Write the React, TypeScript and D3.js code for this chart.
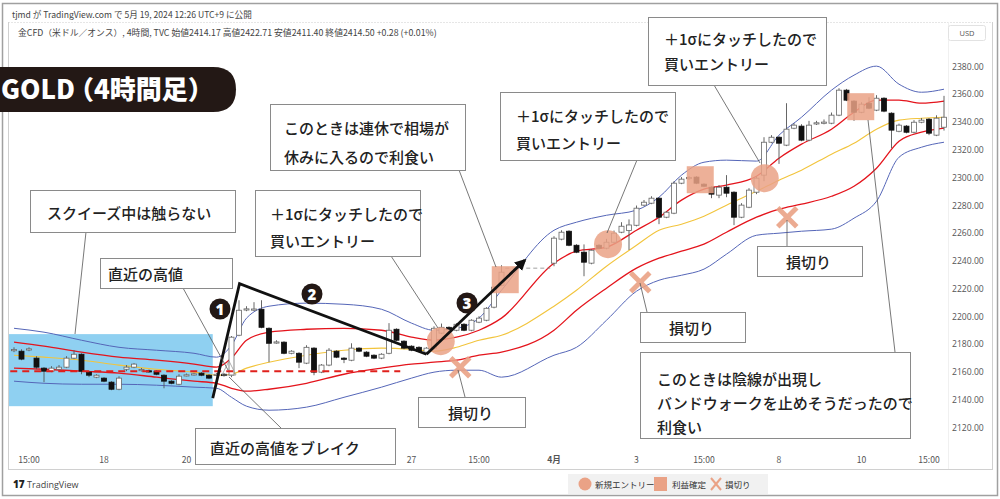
import React from "react";
import * as d3 from "d3";

const W = 1000;
const H = 499;

// [open, high, low, close] per 4h bar, null = no bar drawn
const candles: ([number, number, number, number] | null)[] = [
  [2175.8, 2177.9, 2174.4, 2176.3], [2175.1, 2176.5, 2168.6, 2169.4], [2176.2, 2177.9, 2175.1, 2176.8],
  [2170.1, 2171.5, 2162.1, 2163.6], [2162.9, 2163.6, 2152.8, 2160.7], [2160.7, 2164.3, 2160.0, 2162.9],
  [2162.1, 2165.1, 2161.4, 2163.6], [2163.6, 2171.5, 2162.9, 2170.1], [2170.1, 2175.8, 2169.4, 2172.9],
  [2172.9, 2173.6, 2158.5, 2160.7], [2160.0, 2160.7, 2156.4, 2157.8], [2156.4, 2158.5, 2155.7, 2157.8],
  [2155.7, 2156.4, 2152.8, 2153.5], [2152.8, 2153.5, 2147.0, 2147.7], [2147.7, 2157.0, 2147.0, 2155.7],
  [2162.1, 2165.1, 2160.7, 2163.6], [2163.6, 2166.5, 2162.9, 2165.8], [2161.4, 2163.0, 2160.5, 2161.9],
  [2161.0, 2161.9, 2159.6, 2160.4], [2160.7, 2161.4, 2157.8, 2158.5], [2157.8, 2158.5, 2148.4, 2153.5],
  [2153.5, 2154.2, 2151.3, 2152.0], [2151.3, 2158.5, 2150.6, 2157.1], [2157.5, 2159.0, 2157.0, 2158.1],
  [2158.2, 2159.5, 2157.6, 2158.8], [2159.3, 2160.0, 2157.1, 2157.8], [2157.8, 2158.5, 2155.0, 2155.7],
  [2158.0, 2159.3, 2157.1, 2158.5], [2158.5, 2159.3, 2156.8, 2157.5], [2157.8, 2186.0, 2156.4, 2185.2],
  [2186.6, 2211.8, 2185.9, 2204.6], [2205.0, 2207.5, 2203.9, 2205.6], [2205.1, 2210.4, 2204.0, 2205.5],
  [2205.3, 2211.8, 2191.6, 2192.3], [2191.6, 2192.3, 2167.2, 2180.8], [2181.3, 2183.0, 2180.5, 2181.8],
  [2181.6, 2182.3, 2172.9, 2173.6], [2173.6, 2175.8, 2172.9, 2175.1], [2173.6, 2174.4, 2162.9, 2167.2],
  [2166.5, 2179.4, 2165.8, 2177.9], [2177.3, 2178.0, 2157.8, 2160.0], [2160.0, 2165.8, 2159.3, 2165.1],
  [2165.1, 2177.3, 2164.3, 2175.8], [2175.1, 2175.8, 2170.1, 2170.8], [2170.1, 2170.8, 2166.5, 2169.4],
  [2168.6, 2180.8, 2167.9, 2177.3], [2177.3, 2178.0, 2174.4, 2175.1], [2174.4, 2175.1, 2170.8, 2171.5],
  [2172.2, 2172.9, 2169.4, 2170.1], [2170.1, 2173.6, 2169.4, 2172.9], [2173.6, 2195.3, 2172.9, 2190.2],
  [2190.9, 2191.6, 2182.3, 2183.0], [2182.3, 2183.0, 2176.5, 2177.3], [2178.7, 2179.4, 2175.1, 2175.8],
  [2177.9, 2178.7, 2174.4, 2175.1], [2174.4, 2178.0, 2173.6, 2177.3], [2177.3, 2193.0, 2176.5, 2191.6],
  [2188.1, 2195.0, 2187.4, 2192.3], [2192.3, 2193.0, 2190.2, 2190.9], [2190.2, 2195.3, 2189.5, 2194.5],
  [2194.5, 2195.3, 2189.5, 2190.2], [2190.2, 2198.1, 2189.5, 2197.4], [2196.0, 2200.3, 2195.3, 2198.9],
  [2197.4, 2206.8, 2196.7, 2206.0], [2206.8, 2222.0, 2206.0, 2221.2], [2222.6, 2237.0, 2221.9, 2232.0],
  null, null, null, null, null, null,
  [2238.5, 2257.9, 2236.3, 2256.5], [2255.8, 2262.2, 2255.0, 2260.8], [2261.5, 2262.2, 2250.7, 2251.4],
  [2251.4, 2252.2, 2245.7, 2246.4], [2246.4, 2252.0, 2229.1, 2239.2], [2238.5, 2248.5, 2237.7, 2247.8],
  [2251.4, 2252.2, 2248.5, 2249.3], [2249.3, 2256.0, 2248.5, 2253.6], [2253.6, 2262.0, 2252.9, 2260.1],
  [2260.8, 2268.0, 2260.1, 2265.1], [2262.0, 2270.0, 2248.0, 2266.0], [2265.8, 2280.0, 2265.0, 2278.1],
  [2280.3, 2284.0, 2279.6, 2282.4], [2281.7, 2286.7, 2281.0, 2285.3], [2285.3, 2286.0, 2266.6, 2271.6],
  [2271.6, 2276.0, 2270.9, 2275.2], [2274.5, 2297.5, 2273.8, 2296.1], [2296.1, 2300.5, 2295.4, 2299.0],
  [2299.5, 2301.2, 2298.5, 2300.2], [2300.5, 2301.2, 2295.4, 2296.1], [2295.4, 2296.1, 2293.2, 2293.9],
  [2293.2, 2293.9, 2285.3, 2288.2], [2287.5, 2294.7, 2285.3, 2293.2], [2293.2, 2301.9, 2286.0, 2288.9],
  [2289.6, 2290.3, 2265.9, 2271.6], [2271.6, 2281.7, 2270.9, 2280.3], [2278.8, 2292.5, 2278.1, 2291.1],
  [2289.6, 2301.2, 2288.2, 2299.7], [2301.9, 2329.2, 2297.5, 2325.6], [2325.6, 2330.7, 2324.9, 2329.2],
  [2329.2, 2330.0, 2310.0, 2324.9], [2323.5, 2353.7, 2322.8, 2335.0], [2335.7, 2339.3, 2335.0, 2337.9],
  [2337.2, 2338.6, 2326.3, 2327.1], [2327.1, 2341.0, 2326.3, 2337.9], [2339.0, 2341.0, 2338.0, 2339.6],
  [2339.5, 2342.0, 2338.5, 2340.1], [2339.3, 2347.0, 2338.6, 2345.1], [2345.1, 2364.5, 2344.4, 2363.1],
  [2363.1, 2364.0, 2355.2, 2355.9], [2355.2, 2356.0, 2341.0, 2347.2], [2347.2, 2354.4, 2346.5, 2353.0],
  [2353.7, 2358.0, 2349.4, 2350.1], [2348.7, 2359.5, 2348.0, 2357.3], [2357.3, 2358.0, 2347.2, 2348.0],
  [2346.5, 2347.2, 2321.3, 2334.3], [2333.5, 2339.0, 2332.8, 2337.9], [2337.2, 2338.0, 2332.0, 2332.8],
  [2332.8, 2341.5, 2332.0, 2340.0], [2340.0, 2343.0, 2339.3, 2341.5], [2342.2, 2343.0, 2330.7, 2332.1],
  [2330.7, 2345.0, 2330.0, 2342.9], [2336.4, 2359.0, 2334.0, 2343.6],
];

// Bollinger band values read at these bar indices
const bandIdx = [0, 4, 9, 14, 19, 24, 27, 29, 31, 34, 39, 44, 49, 53, 56, 59, 62, 65, 72, 75, 79, 83, 86, 89, 92, 95, 99, 102, 105, 109, 112, 115, 118, 121, 124];
const upper2 = [2191.6, 2188.8, 2183.0, 2177.9, 2175.8, 2173.6, 2170.8, 2179.4, 2198.9, 2207.5, 2209.7, 2208.9, 2205.3, 2195.3, 2190.2, 2191.6, 2198.9, 2219.0, 2262.2, 2268.0, 2273.0, 2276.7, 2286.0, 2301.9, 2311.2, 2312.7, 2312.0, 2330.7, 2343.6, 2363.1, 2373.9, 2380.4, 2367.4, 2361.6, 2363.8];
const upper1 = [2181.6, 2178.7, 2174.4, 2170.8, 2168.6, 2165.8, 2163.6, 2170.1, 2183.0, 2188.8, 2190.9, 2191.6, 2190.2, 2185.2, 2183.0, 2185.2, 2190.2, 2198.9, 2238.5, 2247.1, 2250.0, 2262.2, 2271.6, 2283.9, 2291.8, 2294.7, 2301.1, 2314.1, 2324.2, 2335.0, 2347.2, 2355.9, 2355.9, 2353.7, 2355.2];
const middle = [2172.2, 2170.8, 2168.6, 2165.1, 2162.1, 2160.0, 2157.8, 2158.5, 2162.9, 2167.2, 2172.2, 2175.8, 2177.3, 2176.5, 2175.1, 2177.9, 2183.0, 2186.6, 2207.5, 2219.0, 2236.3, 2251.4, 2262.2, 2266.6, 2272.3, 2280.3, 2290.3, 2298.3, 2305.5, 2317.0, 2324.9, 2335.0, 2341.5, 2342.9, 2343.6];
const lower1 = [2162.9, 2162.1, 2160.7, 2159.3, 2156.4, 2153.5, 2152.0, 2148.4, 2146.3, 2147.7, 2152.0, 2158.5, 2162.9, 2165.8, 2167.2, 2168.6, 2172.2, 2174.4, 2190.2, 2204.6, 2220.5, 2234.9, 2242.1, 2247.1, 2252.2, 2260.8, 2271.6, 2277.4, 2281.0, 2286.7, 2293.9, 2306.9, 2326.3, 2332.8, 2335.7];
const lower2 = [2153.5, 2152.0, 2151.3, 2151.3, 2150.6, 2149.2, 2148.4, 2141.9, 2135.5, 2132.6, 2134.8, 2141.9, 2149.2, 2155.7, 2160.0, 2161.4, 2161.4, 2156.4, 2172.2, 2177.9, 2197.4, 2218.3, 2226.2, 2229.8, 2234.2, 2245.0, 2258.6, 2260.1, 2261.5, 2263.0, 2270.9, 2283.1, 2314.8, 2322.0, 2325.6];

const priceTicks = [2120, 2140, 2160, 2180, 2200, 2220, 2240, 2260, 2280, 2300, 2320, 2340, 2360, 2380];
const timeTickIdx = [2, 12, 23, 53, 62, 72, 83, 92, 102, 113, 122];
const timeTickLabels = ["15:00", "18", "20", "27", "15:00", "4月", "3", "15:00", "8", "10", "15:00"];

// annotations in data space (bar index, price)
const patternIdx = [26.5, 30.07, 55.0];
const patternPrice = [2141.3, 2223.7, 2172.9];
const arrowIdx = [55.0, 68.1];
const arrowPrice = [2172.9, 2240.6];
const entryIdx = [56.9, 79.2, 100.1];
const entryPrice = [2182.3, 2252.2, 2299.7];
const profitIdx = [65.5, 91.5, 112.9];
const profitPrice = [2226.6, 2298.6, 2351.2];
const stopIdx = [59.5, 83.5, 103.1];
const stopPrice = [2163.6, 2224.8, 2271.6];
const squeezeIdx = [-0.67, 26.5];
const squeezePrice = [2187.4, 2135.5];
const recentHigh = 2160.7;
const recentHighIdx = [-0.5, 51.5];
const gapLine = 2234.9;
const gapLineIdx = [65.5, 71.5];

const JP = "'Noto Sans CJK JP', 'Noto Sans', sans-serif";
const NUM = "'Open Sans', 'Liberation Sans', sans-serif";
const SALMON = "#eaa286";

const callouts = [
  { x: 30, y: 190, w: 205, h: 42, tx: 47, lines: ["スクイーズ中は触らない"], ly: [212] },
  { x: 100, y: 258, w: 132, h: 30, tx: 108, lines: ["直近の高値"], ly: [273] },
  { x: 195, y: 428, w: 200, h: 36, tx: 210, lines: ["直近の高値をブレイク"], ly: [447] },
  { x: 255, y: 190, w: 165, h: 66, tx: 270, lines: ["＋1σにタッチしたので", "買いエントリー"], ly: [213, 240] },
  { x: 270, y: 104, w: 195, h: 66, tx: 284, lines: ["このときは連休で相場が", "休みに入るので利食い"], ly: [127, 156] },
  { x: 500, y: 92, w: 175, h: 68, tx: 516, lines: ["＋1σにタッチしたので", "買いエントリー"], ly: [115, 142] },
  { x: 648, y: 17, w: 178, h: 68, tx: 664, lines: ["＋1σにタッチしたので", "買いエントリー"], ly: [38, 63] },
  { x: 418, y: 397, w: 107, h: 30, tx: 448, lines: ["損切り"], ly: [412] },
  { x: 640, y: 312, w: 105, h: 30, tx: 669, lines: ["損切り"], ly: [327] },
  { x: 757, y: 246, w: 105, h: 30, tx: 786, lines: ["損切り"], ly: [261] },
  { x: 640, y: 352, w: 270, h: 86, tx: 657, lines: ["このときは陰線が出現し", "バンドウォークを止めそうだったので", "利食い"], ly: [378, 402, 426] },
];

const leaders: [number, number, number, number][] = [
  [86, 232, 75, 334],
  [183, 288, 228, 370],
  [281, 428, 229, 377],
  [391, 256, 438, 328],
  [459, 170, 496, 267],
  [637, 160, 607, 233],
  [714, 85, 760, 163],
  [458, 370, 465, 397],
  [640, 283, 647, 312],
  [787, 220, 787, 246],
  [868, 120, 895, 352],
];

const badges = [
  { cx: 220, cy: 309, t: "1" },
  { cx: 312, cy: 294, t: "2" },
  { cx: 467, cy: 303, t: "3" },
];

export default function App() {
  const x = d3.scaleLinear().domain([0, 124]).range([14, 944]);
  const y = d3.scaleLinear().domain([2120, 2380]).range([427.7, 66.7]);
  const bandLine = d3
    .line<number>()
    .x((_, k) => x(bandIdx[k]))
    .y((d) => y(d))
    .curve(d3.curveMonotoneX);
  const pat = d3.line<number>().x((d) => x(d)).y((_, k) => y(patternPrice[k]));
  const bw = 5;

  const bands = [
    { d: upper2, c: "#5566b8", w: 1 },
    { d: lower2, c: "#5566b8", w: 1 },
    { d: middle, c: "#f2c43c", w: 1.1 },
    { d: upper1, c: "#e4141c", w: 1.3 },
    { d: lower1, c: "#e4141c", w: 1.3 },
  ];

  return (
    <svg
      width={W}
      height={H}
      viewBox={`0 0 ${W} ${H}`}
      style={{ position: "absolute", left: 0, top: 0, background: "#fff" }}
    >
      <defs>
        <clipPath id="plot">
          <rect x={8} y={22} width={940} height={423} />
        </clipPath>
        <marker id="ah" viewBox="0 0 10 10" refX={8} refY={5} markerWidth={4.2} markerHeight={4.2} orient="auto">
          <path d="M0,0 L10,5 L0,10 Z" fill="#111" />
        </marker>
      </defs>

      {/* frames */}
      <rect x={2.5} y={3.5} width={995} height={492} fill="#fff" stroke="#a0a0a0" strokeWidth={1.5} />
      <line x1={8} x2={993} y1={22.5} y2={22.5} stroke="#e6e6e6" strokeDasharray="2,1" />
      <line x1={8.5} x2={8.5} y1={22} y2={470} stroke="#d0d0d0" />
      <line x1={992.5} x2={992.5} y1={22} y2={470} stroke="#d0d0d0" />
      <line x1={8} x2={993} y1={469.5} y2={469.5} stroke="#d0d0d0" />
      <line x1={948.5} x2={948.5} y1={22} y2={469} stroke="#f0f0f0" />

      {/* header */}
      <text x={12} y={18} fontSize={8.6} fill="#444" fontFamily={JP}>
        tjmd が TradingView.com で 5月 19, 2024 12:26 UTC+9 に公開
      </text>
      <text x={18} y={36} fontSize={8.8} fill="#444" fontFamily={JP}>
        金CFD（米ドル／オンス）, 4時間, TVC  始値2414.17  高値2422.71  安値2411.40  終値2414.50  +0.28 (+0.01%)
      </text>

      {/* USD box */}
      <rect x={948.5} y={25.5} width={37} height={15} fill="#fff" stroke="#e2e2e2" rx={2} />
      <text x={967} y={36} fontSize={7.5} fill="#555" textAnchor="middle" fontFamily={NUM}>USD</text>

      {/* price axis */}
      {priceTicks.map((p) => (
        <text key={p} x={952} y={y(p) + 3} fontSize={8.6} fill="#555" fontFamily={NUM}>
          {p.toFixed(2)}
        </text>
      ))}

      {/* time axis */}
      {timeTickIdx.map((i, k) => (
        <text
          key={k}
          x={x(i)}
          y={463}
          fontSize={8.6}
          fill="#555"
          textAnchor="middle"
          fontWeight={timeTickLabels[k] === "4月" ? 700 : 400}
          fontFamily={JP}
        >
          {timeTickLabels[k]}
        </text>
      ))}

      {/* squeeze area */}
      <rect
        x={x(squeezeIdx[0])}
        y={y(squeezePrice[0])}
        width={x(squeezeIdx[1]) - x(squeezeIdx[0])}
        height={y(squeezePrice[1]) - y(squeezePrice[0])}
        fill="#8fd0f1"
      />

      <g clipPath="url(#plot)">
        {bands.map((b, k) => (
          <path key={k} d={bandLine(b.d) || ""} fill="none" stroke={b.c} strokeWidth={b.w} />
        ))}

        {candles.map((c, i) => {
          if (!c) return null;
          const [o, h, l, cl] = c;
          const up = cl >= o;
          const top = y(Math.max(o, cl));
          const bot = y(Math.min(o, cl));
          const cx = x(i);
          return (
            <g key={i}>
              <line x1={cx} x2={cx} y1={y(h)} y2={y(l)} stroke="#555" strokeWidth={0.9} />
              <rect
                x={cx - bw / 2}
                y={top}
                width={bw}
                height={Math.max(1.2, bot - top)}
                fill={up ? "#fff" : "#111"}
                stroke={up ? "#666" : "#111"}
                strokeWidth={0.8}
              />
            </g>
          );
        })}
      </g>

      {/* recent high dashed line */}
      <line
        x1={x(recentHighIdx[0])}
        x2={x(recentHighIdx[1])}
        y1={y(recentHigh)}
        y2={y(recentHigh)}
        stroke="#e0201c"
        strokeWidth={2}
        strokeDasharray="7,5"
      />
      <line
        x1={x(gapLineIdx[0])}
        x2={x(gapLineIdx[1])}
        y1={y(gapLine)}
        y2={y(gapLine)}
        stroke="#888"
        strokeWidth={0.8}
        strokeDasharray="4,3"
      />
      <polygon points="222,375 229,361 236,375" fill="none" stroke="#999" strokeWidth={0.8} />

      {/* markers */}
      {profitIdx.map((i, k) => (
        <rect key={k} x={x(i) - 13.5} y={y(profitPrice[k]) - 13.5} width={27} height={27} fill={SALMON} opacity={0.85} />
      ))}
      {entryIdx.map((i, k) => (
        <circle key={k} cx={x(i)} cy={y(entryPrice[k])} r={14} fill={SALMON} opacity={0.85} />
      ))}
      {stopIdx.map((i, k) => {
        const cx = x(i);
        const cy = y(stopPrice[k]);
        const s = 9.5;
        return (
          <g key={k} stroke={SALMON} strokeWidth={5} opacity={0.9}>
            <line x1={cx - s} y1={cy - s} x2={cx + s} y2={cy + s} />
            <line x1={cx + s} y1={cy - s} x2={cx - s} y2={cy + s} />
          </g>
        );
      })}

      {/* pattern lines */}
      <path d={pat(patternIdx) || ""} fill="none" stroke="#111" strokeWidth={2.8} strokeLinejoin="miter" />
      <line
        x1={x(arrowIdx[0])}
        y1={y(arrowPrice[0])}
        x2={x(arrowIdx[1])}
        y2={y(arrowPrice[1])}
        stroke="#111"
        strokeWidth={2.8}
        markerEnd="url(#ah)"
      />

      {/* leaders */}
      {leaders.map((l, k) => (
        <line key={k} x1={l[0]} y1={l[1]} x2={l[2]} y2={l[3]} stroke="#555" strokeWidth={0.8} />
      ))}

      {/* badges */}
      {badges.map((b) => (
        <g key={b.t}>
          <circle cx={b.cx} cy={b.cy} r={10.5} fill="#231815" />
          <text x={b.cx} y={b.cy + 5.5} fontSize={15} fontWeight={900} fill="#fff" textAnchor="middle" fontFamily={NUM}>
            {b.t}
          </text>
        </g>
      ))}

      {/* callouts */}
      {callouts.map((c, k) => (
        <g key={k}>
          <rect x={c.x + 0.5} y={c.y + 0.5} width={c.w} height={c.h} fill="#fff" stroke="#8a8a8a" strokeWidth={1} />
          {c.lines.map((t, j) => (
            <text
              key={j}
              x={c.tx}
              y={c.ly[j]}
              fontSize={15}
              fill="#222"
              dominantBaseline="central"
              fontFamily={JP}
              fontWeight={500}
            >
              {t}
            </text>
          ))}
        </g>
      ))}

      {/* title label */}
      <path d="M0,67 H213 Q236,67 236,89.5 Q236,112 213,112 H0 Z" fill="#231815" />
      <text x={1} y={99} fontSize={26} fontWeight={900} fill="#fff" fontFamily={JP}>
        <tspan>GOLD</tspan>
        <tspan dx={-7}>（4時間足）</tspan>
      </text>

      {/* footer */}
      <text x={13} y={488} fontSize={10} fontWeight={900} fill="#222" fontFamily={NUM}>17</text>
      <text x={27} y={488} fontSize={9} fill="#444" fontFamily={NUM}>TradingView</text>

      <rect x={568} y={474} width={200} height={20} fill="#f1f1f1" />
      <circle cx={585} cy={484} r={6.5} fill={SALMON} />
      <text x={595} y={487.5} fontSize={8.5} fill="#333" fontFamily={JP}>新規エントリー</text>
      <rect x={654} y={477} width={13} height={14} fill={SALMON} />
      <text x={672} y={487.5} fontSize={8.5} fill="#333" fontFamily={JP}>利益確定</text>
      <g stroke={SALMON} strokeWidth={2}>
        <line x1={711} y1={478} x2={721} y2={490} />
        <line x1={721} y1={478} x2={711} y2={490} />
      </g>
      <text x={725} y={487.5} fontSize={8.5} fill="#333" fontFamily={JP}>損切り</text>
    </svg>
  );
}
